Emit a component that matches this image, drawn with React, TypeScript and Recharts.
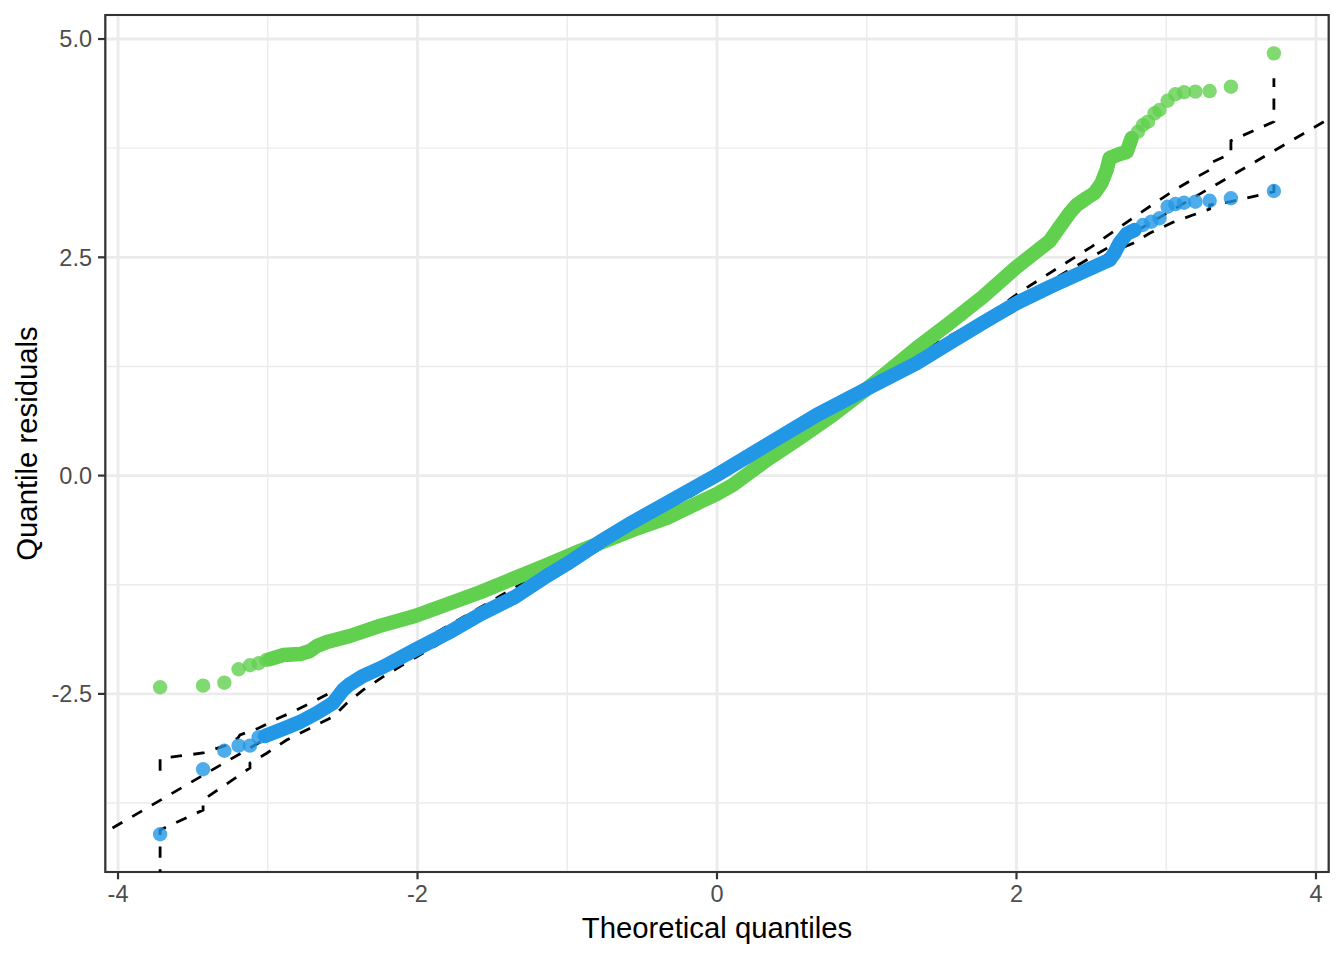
import React from 'react';
import {
  ComposedChart,
  Line,
  Scatter,
  XAxis,
  YAxis,
  CartesianGrid,
  ReferenceArea,
  Label,
} from 'recharts';

// ---------- axes ----------
const xDomain: [number, number] = [-4.085, 4.085];
const yDomain: [number, number] = [-4.54, 5.275];
const xMajorTicks = [-4, -2, 0, 2, 4];
const xMinorTicks = [-3, -1, 1, 3];
const yMajorTicks = [-2.5, 0, 2.5, 5];
const yMinorTicks = [-3.75, -1.25, 1.25, 3.75];

// ---------- green series (dense band + sparse tails) ----------
const greenTailLow: [number, number][] = [
  [-3.719, -2.424], [-3.432, -2.406], [-3.29, -2.372], [-3.195, -2.218],
  [-3.119, -2.172], [-3.061, -2.149], [-3.009, -2.112],
];
const greenBand: [number, number][] = [
  [-2.985, -2.101], [-2.899, -2.055], [-2.785, -2.044], [-2.718, -2.009],
  [-2.672, -1.952], [-2.605, -1.906], [-2.452, -1.837], [-2.252, -1.722],
  [-2.017, -1.608], [-1.797, -1.47], [-1.577, -1.333], [-1.35, -1.173],
  [-1.136, -1.024], [-0.916, -0.863], [-0.782, -0.772], [-0.562, -0.623],
  [-0.335, -0.485], [-0.115, -0.302], [-0.001, -0.211], [0.105, -0.108],
  [0.332, 0.178], [0.553, 0.431], [0.773, 0.694], [0.999, 0.992],
  [1.107, 1.141], [1.334, 1.461], [1.554, 1.748], [1.775, 2.046],
  [2.001, 2.389], [2.222, 2.687], [2.288, 2.847], [2.355, 3.007],
  [2.402, 3.099], [2.469, 3.179], [2.522, 3.237], [2.568, 3.351],
  [2.602, 3.5], [2.622, 3.637], [2.689, 3.683], [2.736, 3.706],
  [2.769, 3.866],
];
const greenTailHigh: [number, number][] = [
  [2.811, 3.938], [2.844, 4.015], [2.878, 4.053], [2.922, 4.149],
  [2.955, 4.187], [3.009, 4.293], [3.061, 4.367], [3.119, 4.39],
  [3.195, 4.397], [3.29, 4.404], [3.432, 4.454], [3.719, 4.836],
];

// ---------- blue series ----------
const blueTailLow: [number, number][] = [
  [-3.719, -4.108], [-3.432, -3.363], [-3.29, -3.151], [-3.195, -3.093],
  [-3.119, -3.093], [-3.061, -2.997],
];
const blueBand: [number, number][] = [
  [-3.019, -2.982], [-2.899, -2.902], [-2.785, -2.822], [-2.672, -2.719],
  [-2.565, -2.605], [-2.498, -2.456], [-2.451, -2.387], [-2.364, -2.295],
  [-2.231, -2.192], [-2.017, -1.997], [-1.797, -1.802], [-1.577, -1.585],
  [-1.35, -1.39], [-1.137, -1.15], [-1.003, -1.012], [-0.782, -0.76],
  [-0.562, -0.531], [-0.335, -0.314], [-0.001, 0.007], [0.332, 0.351],
  [0.666, 0.694], [0.999, 0.992], [1.334, 1.289], [1.554, 1.519],
  [1.775, 1.748], [2.002, 1.977], [2.222, 2.16], [2.442, 2.332],
  [2.575, 2.435], [2.622, 2.47], [2.655, 2.551], [2.689, 2.665],
  [2.736, 2.768], [2.789, 2.813],
];
const blueTailHigh: [number, number][] = [
  [2.844, 2.87], [2.901, 2.908], [2.955, 2.947], [3.009, 3.079],
  [3.061, 3.11], [3.119, 3.125], [3.195, 3.137], [3.29, 3.148],
  [3.432, 3.176], [3.719, 3.259],
];

// ---------- reference line and simulation envelope ----------
const refLine: [number, number][] = [[-4.3, -4.3], [4.3, 4.3]];
const envelopeLower: [number, number][] = [
  [-3.719, -4.9], [-3.719, -4.059], [-3.432, -3.83], [-3.432, -3.715],
  [-3.119, -3.349], [-3.119, -3.292], [-3.007, -3.18], [-2.874, -3.028],
  [-2.785, -2.951], [-2.652, -2.837], [-2.563, -2.761], [-2.473, -2.608],
  [-2.363, -2.455], [-2.229, -2.303], [-2.117, -2.188], [-1.5, -1.57],
  [-1.0, -1.06], [0, -0.06], [1.0, 0.95], [1.5, 1.43], [2.0, 1.9],
  [2.3, 2.2], [2.62, 2.55], [2.778, 2.66], [2.889, 2.775], [3.045, 2.901],
  [3.178, 2.984], [3.29, 3.053], [3.29, 3.099], [3.432, 3.137],
  [3.719, 3.251], [3.719, 3.366],
];
const envelopeUpper: [number, number][] = [
  [-3.719, -3.379], [-3.719, -3.24], [-3.432, -3.177], [-3.283, -3.091],
  [-3.199, -3.005], [-3.186, -2.971], [-3.063, -2.894], [-2.93, -2.779],
  [-2.83, -2.704], [-2.718, -2.608], [-2.563, -2.47], [-2.4, -2.32],
  [-2.0, -1.92], [-1.0, -0.94], [0, 0.05], [1.0, 1.03], [1.5, 1.55],
  [1.775, 1.8], [2.043, 2.125], [2.5, 2.62], [2.822, 3.004],
  [3.056, 3.271], [3.201, 3.416], [3.29, 3.5], [3.29, 3.577],
  [3.432, 3.689], [3.432, 3.835], [3.719, 4.053], [3.719, 4.55],
];

const GREEN = '#61D04F';
const BLUE = '#2297E6';
const FONT = '"Liberation Sans", Arial, Helvetica, sans-serif';
const DOT_R = 7.2;
const BAND_W = 14.4;

const toRows = (pairs: [number, number][]) => pairs.map(([x, y]) => ({ x, y }));

const dotShape = (color: string) => (props: any) => {
  const { cx, cy } = props;
  if (cx == null || cy == null) return <g />;
  return <circle cx={cx} cy={cy} r={DOT_R} fill={color} fillOpacity={0.8} />;
};

const XTitle = (props: any) => {
  const vb = props && props.viewBox && props.viewBox.width ? props.viewBox : { x: 105.3, y: 872, width: 1223.4, height: 88 };
  return (
    <text
      x={vb.x + vb.width / 2}
      y={vb.y + 66.3}
      textAnchor="middle"
      fontSize={29.3}
      fontFamily={FONT}
      fill="#000000"
    >
      Theoretical quantiles
    </text>
  );
};

const YTitle = (props: any) => {
  const vb = props && props.viewBox && props.viewBox.height ? props.viewBox : { x: 0, y: 15, width: 105.3, height: 857 };
  const x = 36.7;
  const y = vb.y + vb.height / 2;
  return (
    <text
      x={x}
      y={y}
      transform={`rotate(-90, ${x}, ${y})`}
      textAnchor="middle"
      fontSize={29.3}
      fontFamily={FONT}
      fill="#000000"
    >
      Quantile residuals
    </text>
  );
};

const tickStyle = { fill: '#4D4D4D', fontSize: 23.5, fontFamily: FONT };
const tickLineStyle = { stroke: '#333333', strokeWidth: 2.2 };

export default function App() {
  return (
    <div
      style={{
        position: 'absolute',
        left: 0,
        top: 0,
        width: 1344,
        height: 960,
        background: '#ffffff',
        fontFamily: FONT,
      }}
    >
      <ComposedChart
        width={1344}
        height={960}
        margin={{ top: 15, right: 15.3, bottom: 0, left: 0 }}
      >
        <XAxis
          xAxisId="minor"
          type="number"
          dataKey="x"
          domain={xDomain}
          ticks={xMinorTicks}
          interval={0}
          allowDataOverflow
          hide
        />
        <YAxis
          yAxisId="minor"
          type="number"
          dataKey="y"
          domain={yDomain}
          ticks={yMinorTicks}
          interval={0}
          allowDataOverflow
          hide
        />
        <CartesianGrid
          xAxisId="minor"
          yAxisId="minor"
          stroke="#EBEBEB"
          strokeWidth={1.4}
        />
        <XAxis
          type="number"
          dataKey="x"
          domain={xDomain}
          ticks={xMajorTicks}
          interval={0}
          allowDataOverflow
          height={88}
          tickSize={7.3}
          tickMargin={6}
          tick={tickStyle}
          tickLine={tickLineStyle}
          axisLine={false}
        >
          <Label content={<XTitle />} />
        </XAxis>
        <YAxis
          type="number"
          dataKey="y"
          domain={yDomain}
          ticks={yMajorTicks}
          interval={0}
          allowDataOverflow
          width={105.3}
          tickSize={7.3}
          tickMargin={6}
          tick={tickStyle}
          tickLine={tickLineStyle}
          axisLine={false}
          tickFormatter={(v: number) => v.toFixed(1)}
        >
          <Label content={<YTitle />} />
        </YAxis>
        <CartesianGrid stroke="#EBEBEB" strokeWidth={2.8} />

        <Line
          data={toRows(refLine)}
          dataKey="y"
          type="linear"
          stroke="#000000"
          strokeWidth={2.8}
          strokeDasharray="11.4 11.4"
          dot={false}
          activeDot={false}
          isAnimationActive={false}
        />
        <Line
          data={toRows(envelopeLower)}
          dataKey="y"
          type="linear"
          stroke="#000000"
          strokeWidth={2.8}
          strokeDasharray="11.4 11.4"
          dot={false}
          activeDot={false}
          isAnimationActive={false}
        />
        <Line
          data={toRows(envelopeUpper)}
          dataKey="y"
          type="linear"
          stroke="#000000"
          strokeWidth={2.8}
          strokeDasharray="11.4 11.4"
          dot={false}
          activeDot={false}
          isAnimationActive={false}
        />

        <Line
          data={toRows(greenBand)}
          dataKey="y"
          type="linear"
          stroke={GREEN}
          strokeWidth={BAND_W}
          strokeLinecap="round"
          strokeLinejoin="round"
          dot={false}
          activeDot={false}
          isAnimationActive={false}
        />
        <Line
          data={toRows(blueBand)}
          dataKey="y"
          type="linear"
          stroke={BLUE}
          strokeWidth={BAND_W}
          strokeLinecap="round"
          strokeLinejoin="round"
          dot={false}
          activeDot={false}
          isAnimationActive={false}
        />

        <Scatter data={toRows(greenTailLow)} shape={dotShape(GREEN)} isAnimationActive={false} />
        <Scatter data={toRows(greenTailHigh)} shape={dotShape(GREEN)} isAnimationActive={false} />
        <Scatter data={toRows(blueTailLow)} shape={dotShape(BLUE)} isAnimationActive={false} />
        <Scatter data={toRows(blueTailHigh)} shape={dotShape(BLUE)} isAnimationActive={false} />

        <ReferenceArea
          x1={xDomain[0]}
          x2={xDomain[1]}
          y1={yDomain[0]}
          y2={yDomain[1]}
          fill="none"
          fillOpacity={0}
          stroke="#333333"
          strokeWidth={2.2}
          ifOverflow="visible"
        />
      </ComposedChart>
    </div>
  );
}
